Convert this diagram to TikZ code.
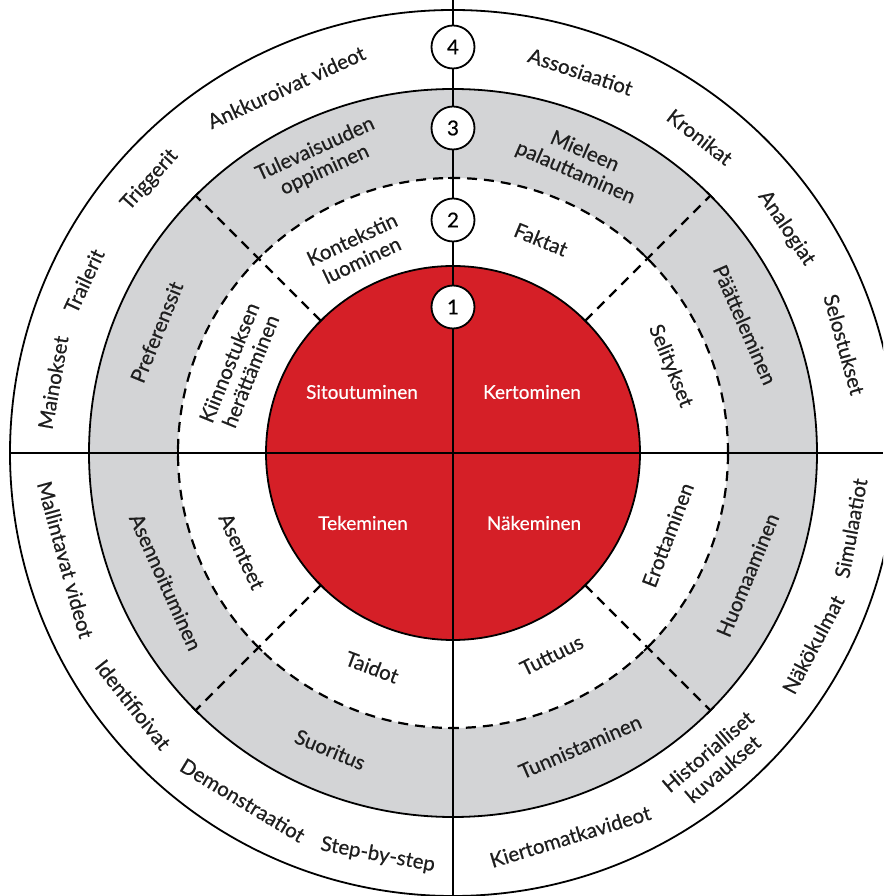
\documentclass[tikz,border=0pt]{standalone}
\usepackage{fontspec}
\setmainfont{Lato}
\newfontfamily\wheelfont{Lato}[FakeBold=0.5]
\usetikzlibrary{positioning}

\definecolor{wheelred}{RGB}{213,31,39}
\definecolor{ringgrey}{RGB}{211,212,214}
\definecolor{inkgrey}{RGB}{30,30,30}

\begin{document}
\begin{tikzpicture}[
  x=1pt, y=1pt,
  font=\wheelfont\fontsize{20.5}{23}\selectfont,
  ring/.style={draw, line width=1.8pt},
  dashring/.style={draw, dash pattern=on 10pt off 7pt, line width=2.2pt},
  tickmark/.style={line width=1.8pt},
  lbl/.style={text=inkgrey, align=center, inner sep=0pt},
  redlbl/.style={text=white, inner sep=0pt, font=\wheelfont\fontsize{19}{22}\selectfont},
  numdot/.style={circle, draw, fill=white, line width=1.8pt,
                 minimum size=43pt, inner sep=0pt}
]
\clip (-453,-443) rectangle (430,453);

% rings
\fill[ringgrey, even odd rule] (0,0) circle (364) (0,0) circle (275);
\draw[ring, fill=wheelred] (0,0) circle (187);
\draw[ring] (0,0) circle (364);
\draw[ring] (0,0) circle (443);
\draw[dashring] (0,0) circle (275);
\foreach \a in {45,135,225,315} {
  \draw[dashring] (\a:187) -- (\a:364);
  \draw[tickmark, rotate=\a] (187,-5) -- (187,5);
  \draw[tickmark, rotate=\a] (364,-5) -- (364,5);
}
\foreach \a in {0,45,...,315}
  \draw[tickmark, rotate=\a] (275,-5) -- (275,5);

% axes
\draw[ring] (0,453) -- (0,-443);
\draw[ring] (-443,0) -- (430,0);

% levels
\node[numdot] (n4) at (90:406) {4};
\node[numdot] (n3) at (90:325) {3};
\node[numdot] (n2) at (90:233) {2};
\node[numdot] (n1) at (90:146) {1};

% core
\node[redlbl] (sitoutuminen) at (-91,61) {Sitoutuminen};
\node[redlbl] (kertominen) at (79,61) {Kertominen};
\node[redlbl] (tekeminen) at (-90,-70) {Tekeminen};
\node[redlbl] (nakeminen) at (81,-70) {Näkeminen};

% upper half
\foreach \a/\r/\txt/\nm in {
    114.5/402/Ankkuroivat videot/ankkuroivat,
    138/408/Triggerit/triggerit,
    155/407/Trailerit/trailerit,
    170/406/Mainokset/mainokset,
    71.5/402/Assosiaatiot/assosiaatiot,
    52/401/Kronikat/kronikat,
    34/402/Analogiat/analogiat,
    15.5/406/Selostukset/selostukset,
    114.4/322/Tulevaisuuden\\oppiminen/tulevaisuuden,
    157.8/320/Preferenssit/preferenssit,
    66.4/317/Mieleen\\palauttaminen/mieleen,
    23.7/319/Päätteleminen/paatteleminen,
    115.3/225/Kontekstin\\luominen/kontekstin,
    158/230/Kiinnostuksen\\herättäminen/kiinnostuksen,
    67.6/231/Faktat/faktat,
    21.8/234/Selitykset/selitykset}
  \node[lbl, rotate=\a-90] (\nm) at (\a:\r) {\txt};

% lower half
\foreach \a/\r/\txt/\nm in {
    -164.6/402/Mallintavat videot/mallintavat,
    -141.8/407/Identifioivat/identifioivat,
    -121.2/406/Demonstraatiot/demonstraatiot,
    -100.6/409/Step-by-step/stepbystep,
    -73/401/Kiertomatkavideot/kiertomatka,
    -49.5/404/Historialliset\\kuvaukset/historialliset,
    -28/408/Näkökulmat/nakokulmat,
    -10.7/405/Simulaatiot/simulaatiot,
    -155.8/315/Asennoituminen/asennoituminen,
    -112.5/321/Suoritus/suoritus,
    -66.6/320/Tunnistaminen/tunnistaminen,
    -22.5/319/Huomaaminen/huomaaminen,
    -155/233/Asenteet/asenteet,
    -110.7/229/Taidot/taidot,
    -64/225/Tuttuus/tuttuus,
    -20.9/230/Erottaminen/erottaminen}
  \node[lbl, rotate=\a+90] (\nm) at (\a:\r) {\txt};
\end{tikzpicture}
\end{document}
